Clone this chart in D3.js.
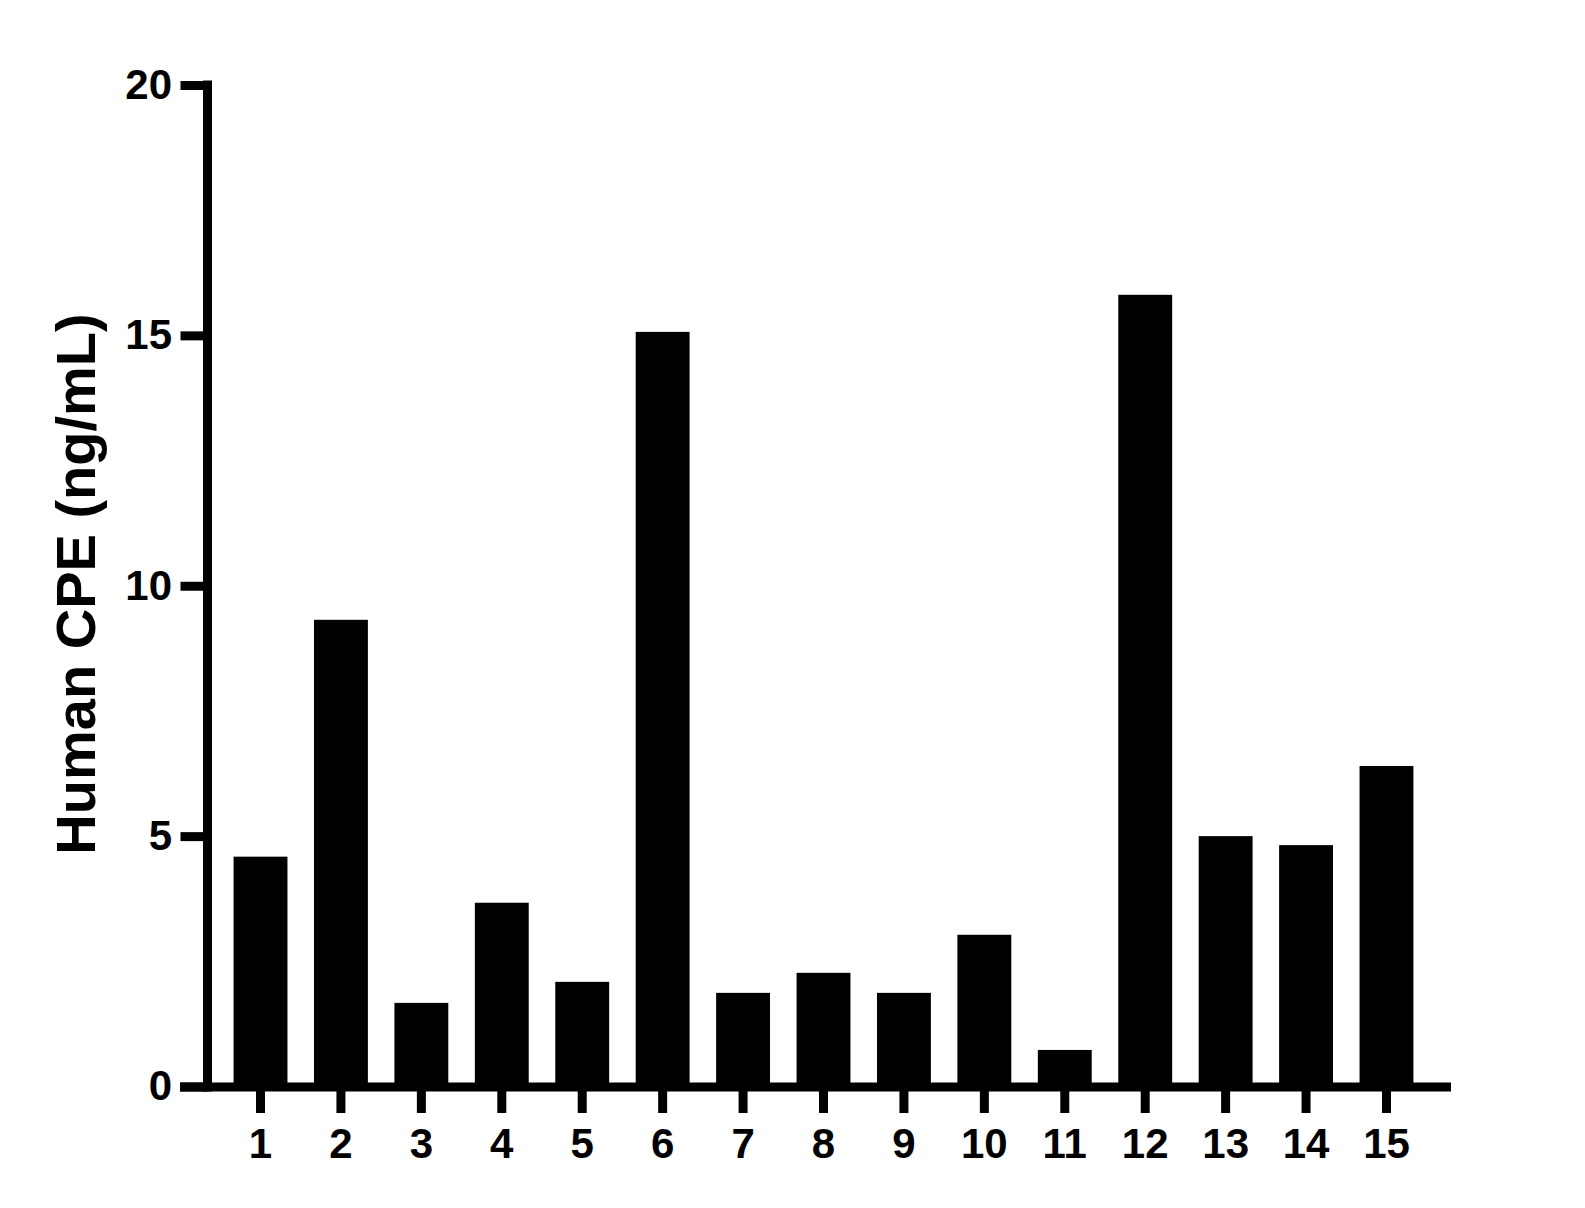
<!DOCTYPE html>
<html>
<head>
<meta charset="utf-8">
<script src="https://cdn.jsdelivr.net/npm/d3@7"></script>
<style>
  html, body { margin: 0; padding: 0; background: #fff; }
  svg text { font-family: Arial, "Liberation Sans", sans-serif; font-weight: bold; fill: #000; }
</style>
</head>
<body>
<div id="chart"></div>
<script>
// sample numbers on the x axis
const samples = ["1", "2", "3", "4", "5", "6", "7", "8", "9", "10", "11", "12", "13", "14", "15"];
// Human CPE concentration, ng/mL
const cpeValues = [4.59, 9.32, 1.67, 3.67, 2.09, 15.07, 1.87, 2.27, 1.87, 3.03, 0.73, 15.81, 5.00, 4.82, 6.40];
const yTicks = [0, 5, 10, 15, 20];
const yTitle = "Human CPE (ng/mL)";

const width = 1585, height = 1208;
const axisX = 207.5, axisY = 1087;
const lw = 9; // axis line width

const svg = d3.select('#chart')
  .append('svg')
  .attr('width', width)
  .attr('height', height);

const y = d3.scaleLinear()
  .domain([0, 20])
  .range([1086.5, 85]);

const x = d3.scaleBand()
  .domain(samples)
  .range([220.3, 1426.7])
  .paddingInner(0.33)
  .paddingOuter(0.165);

// bars
svg.selectAll('.bar')
  .data(cpeValues)
  .enter()
  .append('rect')
  .attr('class', 'bar')
  .attr('x', (d, i) => x(samples[i]))
  .attr('width', x.bandwidth())
  .attr('y', d => y(d))
  .attr('height', d => y(0) - y(d))
  .attr('fill', '#000');

// y axis ticks + labels
const yAxis = svg.append('g')
  .attr('transform', `translate(${axisX},0)`)
  .call(d3.axisLeft(y).tickValues(yTicks).tickSize(27).tickPadding(8.5));
yAxis.select('.domain').remove();
yAxis.selectAll('.tick line').attr('stroke', '#000').attr('stroke-width', lw);
yAxis.selectAll('.tick text').style('font-size', '42px');

// x axis ticks + labels
const xAxis = svg.append('g')
  .attr('transform', `translate(0,${axisY})`)
  .call(d3.axisBottom(x).tickSize(26).tickPadding(15));
xAxis.select('.domain').remove();
xAxis.selectAll('.tick line').attr('stroke', '#000').attr('stroke-width', lw);
xAxis.selectAll('.tick text')
  .attr('y', 71)
  .attr('dy', 0)
  .style('font-size', '42px');

// axis lines
svg.append('line')
  .attr('x1', axisX).attr('x2', axisX)
  .attr('y1', y(20) - lw / 2).attr('y2', axisY + lw / 2)
  .attr('stroke', '#000').attr('stroke-width', lw);
svg.append('line')
  .attr('x1', 180).attr('x2', 1451)
  .attr('y1', axisY).attr('y2', axisY)
  .attr('stroke', '#000').attr('stroke-width', lw);

// y title
svg.append('text')
  .attr('transform', 'translate(95,584) rotate(-90)')
  .attr('text-anchor', 'middle')
  .style('font-size', '56px')
  .text(yTitle);
</script>
</body>
</html>
